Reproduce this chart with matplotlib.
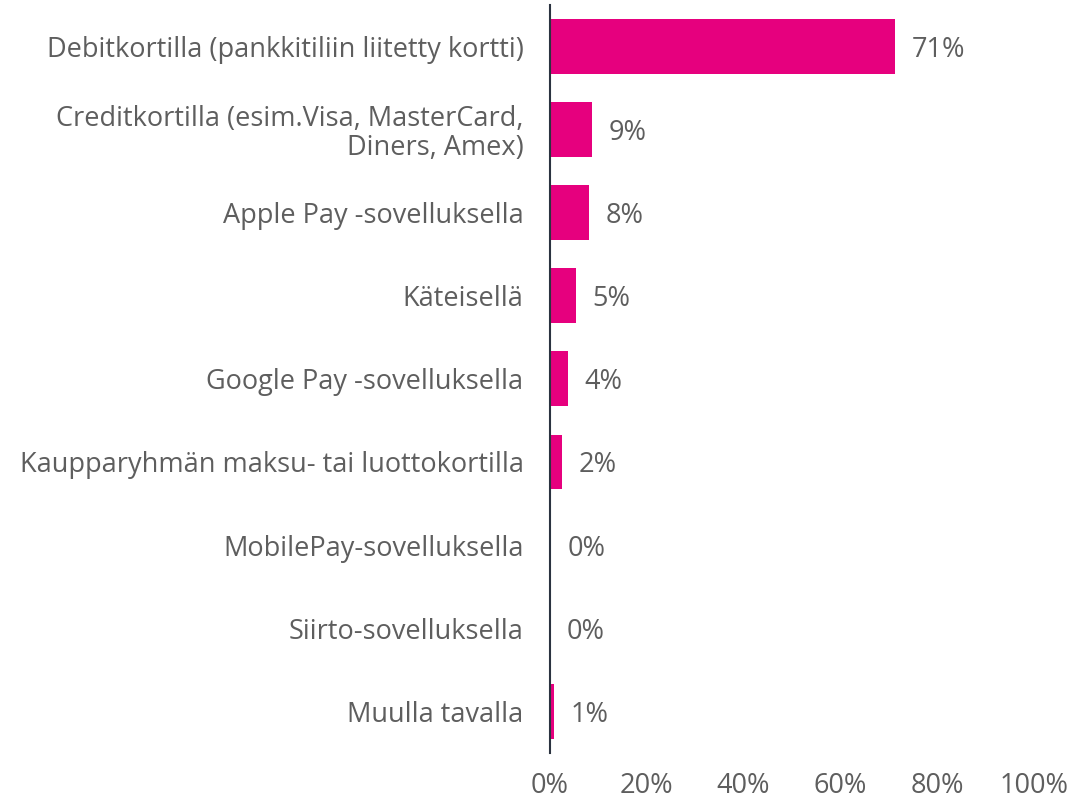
import matplotlib
matplotlib.use('Agg')
import matplotlib.pyplot as plt

categories = [
    'Debitkortilla (pankkitiliin liitetty kortti)',
    'Creditkortilla (esim.Visa, MasterCard,\nDiners, Amex)',
    'Apple Pay -sovelluksella',
    'Käteisellä',
    'Google Pay -sovelluksella',
    'Kaupparyhmän maksu- tai luottokortilla',
    'MobilePay-sovelluksella',
    'Siirto-sovelluksella',
    'Muulla tavalla',
]
values = [71.3, 8.7, 8.1, 5.4, 3.7, 2.5, 0.2, 0.1, 0.8]
value_labels = ['71%', '9%', '8%', '5%', '4%', '2%', '0%', '0%', '1%']
x_ticks = [0, 20, 40, 60, 80, 100]

bar_color = '#E6007E'
text_color = '#5E5E5E'
axis_color = '#2B3340'

plt.rcParams['font.family'] = ['Open Sans', 'DejaVu Sans']

fig = plt.figure(figsize=(10.72, 8.01), dpi=100)
ax = fig.add_axes([0.513, 0.06, 0.4515, 0.934])

y_pos = list(range(len(categories)))
ax.barh(y_pos, values, height=0.66, color=bar_color)
ax.set_ylim(len(categories) - 0.5, -0.5)
ax.set_xlim(0, 100)

fs = 19.5
for y, v, lab in zip(y_pos, values, value_labels):
    ax.annotate(lab, xy=(v, y), xytext=(12, -2.5), textcoords='offset points',
                va='center', ha='left', fontsize=fs, color=text_color)

ax.set_yticks(y_pos)
ax.set_yticklabels(categories, fontsize=fs, color=text_color, linespacing=1.05)
ax.set_xticks(x_ticks)
ax.set_xticklabels([f'{t}%' for t in x_ticks], fontsize=fs, color=text_color)
ax.tick_params(axis='y', length=0, pad=19)
ax.tick_params(axis='x', length=0, pad=14)

for s in ['top', 'right', 'bottom']:
    ax.spines[s].set_visible(False)
ax.spines['left'].set_color(axis_color)
ax.spines['left'].set_linewidth(1.5)

fig.savefig('out.png', dpi=100)
